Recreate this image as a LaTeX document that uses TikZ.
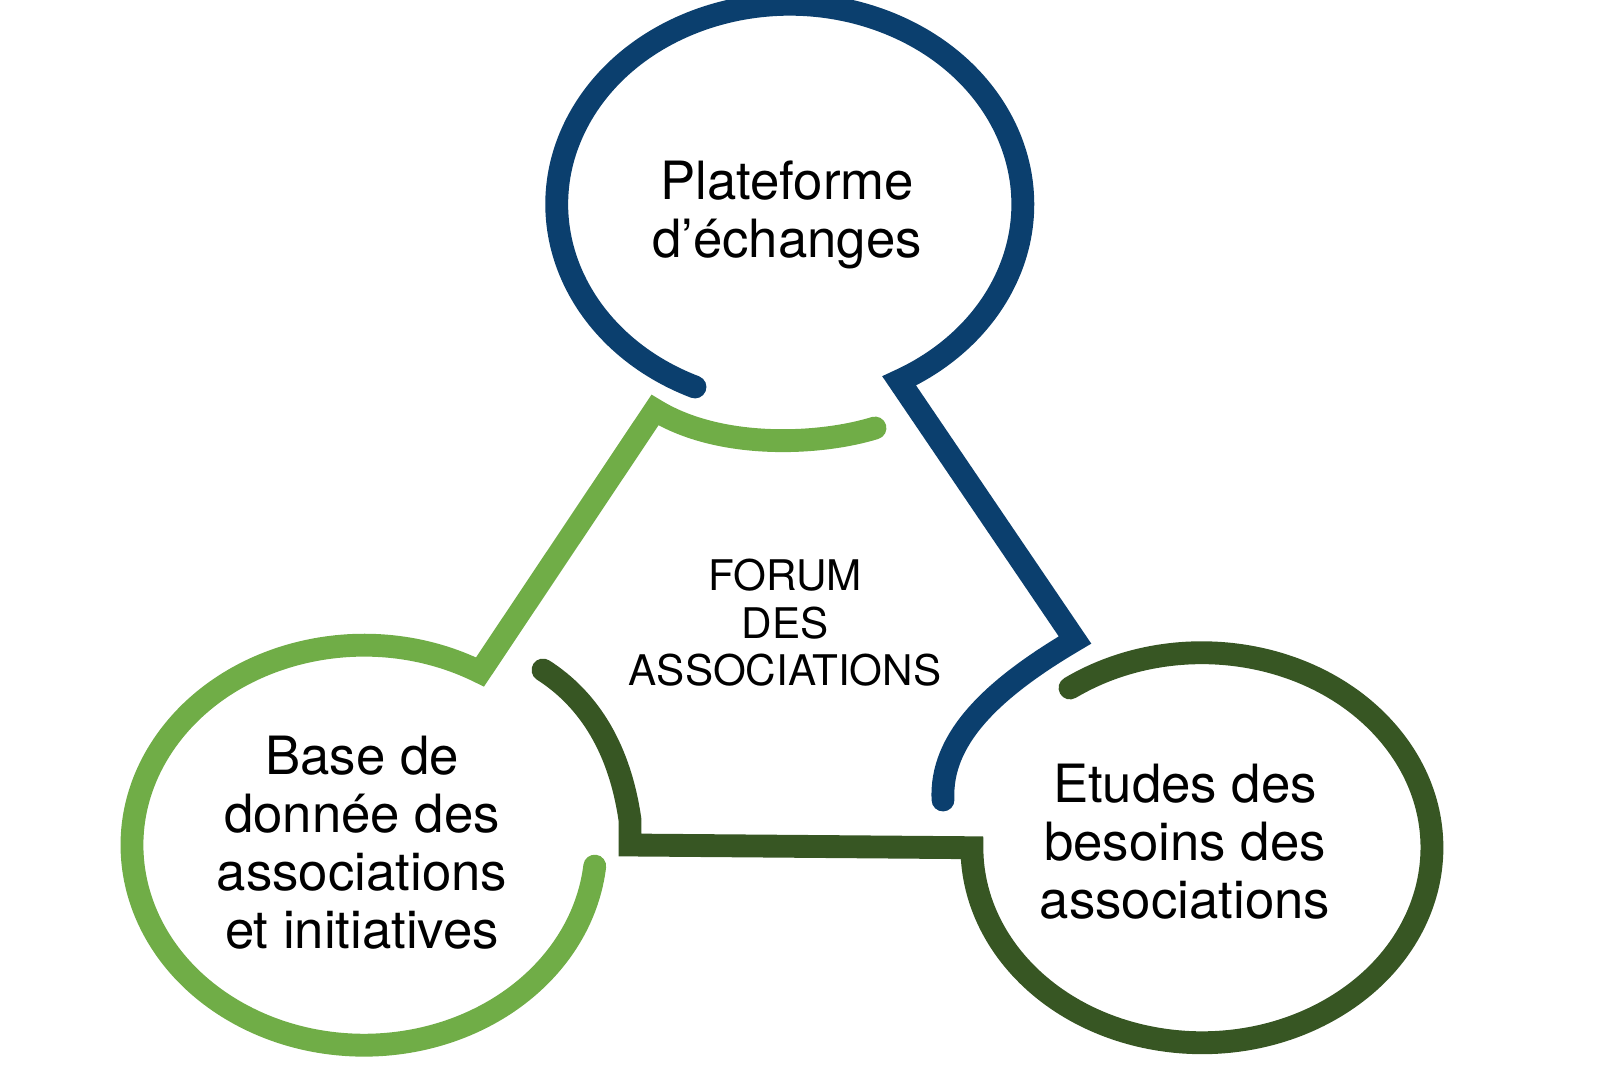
\documentclass[tikz,border=0pt]{standalone}
\usepackage{fontspec}
\setmainfont{TeX Gyre Heros}
\definecolor{cblue}{HTML}{0B3F6E}
\definecolor{cgreen}{HTML}{70AD47}
\definecolor{cdark}{HTML}{375623}
\begin{document}
\begin{tikzpicture}[x=0.01cm,y=-0.01cm,
  ring/.style={line width=6.5pt,line cap=round,line join=miter},
  lbl/.style={align=center,font=\fontsize{15}{16.5}\selectfont},
  mid/.style={align=center,font=\fontsize{12}{13.5}\selectfont}]
\useasboundingbox (0,0) rectangle (1600,1067);
% blue
\draw[ring,cblue] (695,387) arc[start angle=114,end angle=422,x radius=233,y radius=200]
  -- (1075,640) .. controls (990,690) and (940,740) .. (943,800);
% light green
\draw[ring,cgreen] (875,428) .. controls (820,445) and (720,450) .. (655,410) -- (480,672)
  arc[start angle=-60,end angle=-354,x radius=232,y radius=200];
% dark green
\draw[ring,cdark] (1070,688) arc[start angle=235,end angle=540,x radius=230,y radius=195]
  -- (630,845) -- (630,820) .. controls (620,750) and (590,700) .. (543,670);
\node[lbl] (top) at (787,215) {Plateforme\\d’échanges};
\node[lbl] (left) at (362,843) {Base de\\donnée des\\associations\\et initiatives};
\node[lbl] (right) at (1185,842) {Etudes des\\besoins des\\associations};
\node[mid] (center) at (785,623) {FORUM\\DES\\ASSOCIATIONS};
\end{tikzpicture}
\end{document}
